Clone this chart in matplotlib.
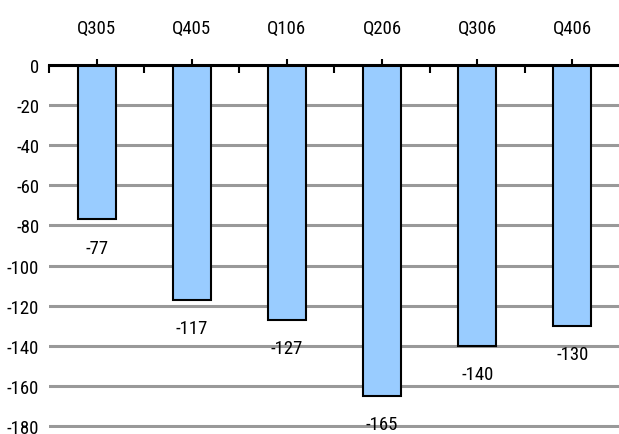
import matplotlib
matplotlib.use("Agg")
import matplotlib.pyplot as plt
from matplotlib.ticker import FixedLocator

quarters = ["Q305", "Q405", "Q106", "Q206", "Q306", "Q406"]
values = [-77, -117, -127, -165, -140, -130]
y_ticks = [0, -20, -40, -60, -80, -100, -120, -140, -160, -180]

plt.rcParams["font.family"] = ["Roboto Condensed", "Liberation Sans", "DejaVu Sans"]

fig = plt.figure(figsize=(6.19, 4.35), dpi=100)
ax = fig.add_axes([49 / 619, 1 - 429 / 435, 1 - 49 / 619, (429 - 66) / 435])

x = list(range(len(quarters)))
ax.bar(x, values, width=0.4, color="#99CCFF", edgecolor="black", linewidth=1.5, zorder=3)

# value labels under each bar end
for xi, v in zip(x, values):
    ax.annotate(str(v), (xi, v), xytext=(0, -20.5), textcoords="offset points",
                ha="center", va="center", fontsize=13.5, zorder=4)

ax.set_xlim(-0.5, 5.49)
ax.set_ylim(-181, 0)

ax.set_yticks(y_ticks)
ax.set_yticklabels([str(t) for t in y_ticks])
ax.tick_params(axis="y", length=0, pad=7, labelsize=13.5)
ax.yaxis.grid(True, color="#999999", linewidth=2.2, zorder=1)

# category labels above the zero line
ax.xaxis.tick_top()
ax.set_xticks(x)
ax.set_xticklabels(quarters)
ax.tick_params(axis="x", which="major", direction="out", length=4, width=1.5,
               pad=16, labelsize=13.5, top=True, bottom=False)
ax.xaxis.set_minor_locator(FixedLocator([i - 0.5 for i in range(len(quarters) + 1)]))
ax.tick_params(axis="x", which="minor", direction="in", length=6, width=1.5,
               top=True, bottom=False)

for side in ["left", "right", "bottom"]:
    ax.spines[side].set_visible(False)
ax.spines["top"].set_linewidth(2.2)
ax.spines["top"].set_zorder(5)

fig.savefig("out.png", dpi=100)
